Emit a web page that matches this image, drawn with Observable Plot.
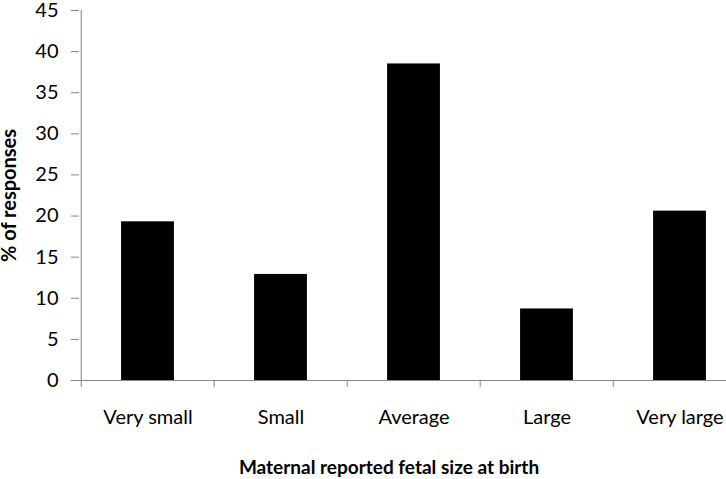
<!DOCTYPE html>
<html>
<head>
<meta charset="utf-8">
<script src="https://cdn.jsdelivr.net/npm/d3@7"></script>
<script src="https://cdn.jsdelivr.net/npm/@observablehq/plot@0.6"></script>
<style>
  html, body { margin: 0; padding: 0; background: #fff; }
  #chart svg text { fill: #000; }
</style>
</head>
<body>
<div id="chart"></div>
<script>
const categories = ["Very small", "Small", "Average", "Large", "Very large"];
const values = [19.3, 12.9, 38.5, 8.7, 20.6];
const yTicks = [0, 5, 10, 15, 20, 25, 30, 35, 40, 45];
const xTitle = "Maternal reported fetal size at birth";
const yTitle = "% of responses";

const data = categories.map((c, i) => ({category: c, value: values[i]}));

const W = 726, H = 479;
const mLeft = 79, mTop = 10, mBottom = 99;
const xRange = [79, 747];
const step = (xRange[1] - xRange[0]) / categories.length;
const barInset = step * 0.3;
const axisColor = "#868686";

const chart = Plot.plot({
  width: W,
  height: H,
  marginLeft: mLeft,
  marginTop: mTop,
  marginBottom: mBottom,
  marginRight: 0,
  style: {fontFamily: "Lato, sans-serif", fontSize: "20px", color: axisColor, background: "#fff"},
  x: {domain: categories, range: xRange, padding: 0, tickSize: 0, tickPadding: 29, label: null},
  y: {domain: [0, 45], ticks: yTicks, tickSize: 8, tickPadding: 13, label: null},
  marks: [
    Plot.barY(data, {x: "category", y: "value", fill: "#000", insetLeft: barInset, insetRight: barInset}),
    Plot.ruleY([0], {stroke: axisColor, strokeWidth: 1}),
    Plot.ruleX([categories[0]], {x: d => d, dx: -step / 2, stroke: axisColor, strokeWidth: 1}),
    Plot.ruleX(categories, {x: d => d, dx: -step / 2, stroke: axisColor, strokeWidth: 1,
      insetTop: (H - mBottom - mTop), insetBottom: -7}),
    Plot.text([xTitle], {text: d => d, frameAnchor: "bottom", textAnchor: "middle", lineAnchor: "middle",
      dx: -14, dy: 87, fontWeight: "bold", fontSize: 19, fill: "#000"}),
    Plot.text([yTitle], {text: d => d, frameAnchor: "left", textAnchor: "middle", lineAnchor: "middle",
      rotate: -90, dx: -70, fontWeight: "bold", fontSize: 20, fill: "#000"})
  ]
});
document.getElementById("chart").appendChild(chart);
</script>
</body>
</html>
